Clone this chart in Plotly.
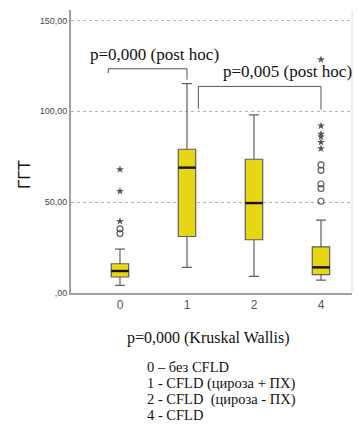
import plotly.graph_objects as go

# Groups and their box-plot statistics (ГГТ)
groups = ["0", "1", "2", "4"]
q1 = [8.8, 31.1, 29.3, 10.1]
median = [12.1, 69.0, 49.5, 14.1]
q3 = [16.1, 79.1, 73.6, 25.4]
lower_fence = [4.2, 14.1, 9.1, 7.1]
upper_fence = [24.2, 115.2, 98.0, 40.1]

# Outliers: circles (mild) and stars (extreme), per group
mild_0 = [35.3, 32.7]
extreme_0 = [68.0, 56.0, 39.5]
mild_4 = [70.5, 67.5, 60.0, 57.5, 50.5]
extreme_4 = [128.5, 92.0, 87.5, 86.0, 83.0, 79.5]

y_tick_vals = [0, 50, 100, 150]
y_tick_text = [",00", "50,00", "100,00", "150,00"]

legend_lines = [
    "0 – без CFLD",
    "1 - CFLD (цироза + ПХ)",
    "2 - CFLD  (цироза - ПХ)",
    "4 - CFLD",
]

positions = list(range(len(groups)))
box_w = 0.26
fill = "#E6D614"
edge = "#5f5f5f"
mark = "#555555"
serif = "Liberation Serif, Times New Roman, serif"
sans = "Arial, Liberation Sans, sans-serif"

fig = go.Figure()

fig.add_trace(go.Box(
    x=positions, q1=q1, median=median, q3=q3,
    lowerfence=lower_fence, upperfence=upper_fence,
    width=box_w, whiskerwidth=0.57, boxpoints=False,
    fillcolor=fill, line=dict(color=edge, width=1.2),
    hoverinfo="skip", showlegend=False,
))

# Heavy black median bars
for p, m in zip(positions, median):
    fig.add_trace(go.Scatter(
        x=[p - box_w / 2, p + box_w / 2], y=[m, m], mode="lines",
        line=dict(color="#111111", width=2.4), showlegend=False,
        hoverinfo="skip",
    ))

for grp, mild, extreme in ((0, mild_0, extreme_0), (3, mild_4, extreme_4)):
    fig.add_trace(go.Scatter(
        x=[grp] * len(mild), y=mild, mode="markers",
        marker=dict(symbol="circle-open", size=6, color=mark,
                    line=dict(width=1.1, color=mark)),
        showlegend=False, hoverinfo="skip",
    ))
    fig.add_trace(go.Scatter(
        x=[grp] * len(extreme), y=extreme, mode="markers",
        marker=dict(symbol="star", size=6, color=mark,
                    line=dict(width=0)),
        showlegend=False, hoverinfo="skip",
    ))

shapes = []
# Post-hoc comparison brackets
bracket_line = dict(color="#555555", width=1)
for x0, x1, ytop, yl, yr in ((-0.175, 1.0, 123.4, 121.0, 117.4),
                             (1.17, 3.0, 113.7, 101.4, 101.0)):
    shapes.append(dict(type="path", xref="x", yref="y",
                       path=f"M {x0},{yl} L {x0},{ytop} L {x1},{ytop} L {x1},{yr}",
                       line=bracket_line))
# light right frame edge
shapes.append(dict(type="line", xref="paper", yref="paper", x0=1, x1=1,
                   y0=0, y1=1, line=dict(color="#dcdcdc", width=1)))

W, H = 358, 428
ML, MR, MT, MB = 71, 6, 10, 135


def px_x(x):
    return (x - ML) / (W - ML - MR)


def px_y(y):
    return (H - MB - y) / (H - MT - MB)


annotations = [
    dict(x=0.515, y=131.2, xref="x", yref="y", text="p=0,000 (post hoc)",
         showarrow=False, font=dict(family=serif, size=17, color="#111")),
    dict(x=2.507, y=121.8, xref="x", yref="y", text="p=0,005 (post hoc)",
         showarrow=False, font=dict(family=serif, size=17, color="#111")),
    dict(x=px_x(25), y=px_y(175), xref="paper", yref="paper", text="ГГТ",
         showarrow=False, textangle=-90, xanchor="center", yanchor="middle",
         font=dict(family=sans, size=17, color="#111")),
    dict(x=px_x(208), y=px_y(338), xref="paper", yref="paper",
         text="p=0,000 (Kruskal Wallis)", showarrow=False,
         xanchor="center", yanchor="middle",
         font=dict(family=serif, size=16, color="#111")),
]

for i, line in enumerate(legend_lines):
    annotations.append(dict(
        x=px_x(145), y=px_y(367 + 16 * i),
        xref="paper", yref="paper", xanchor="left", yanchor="middle",
        text=line, showarrow=False,
        font=dict(family=serif, size=14.5, color="#111")))

fig.update_layout(
    width=W, height=H,
    margin=dict(l=ML, r=MR, t=MT, b=MB, pad=0),
    paper_bgcolor="white", plot_bgcolor="white",
    shapes=shapes, annotations=annotations,
    xaxis=dict(
        range=[-0.731, 3.463], tickvals=positions, ticktext=groups,
        showgrid=False, zeroline=False, showline=True,
        linecolor="#a0a0a0", linewidth=2, ticks="", ticklen=0,
        tickfont=dict(family=sans, size=12, color="#555"),
    ),
    yaxis=dict(
        range=[0, 155.75], tickvals=y_tick_vals, ticktext=y_tick_text,
        showgrid=True, gridcolor="#b4b4b4", griddash="dot", gridwidth=1,
        zeroline=False, showline=True, linecolor="#a0a0a0", linewidth=2,
        ticks="", tickfont=dict(family=sans, size=9, color="#444"),
    ),
)

fig.write_html("out.html")
